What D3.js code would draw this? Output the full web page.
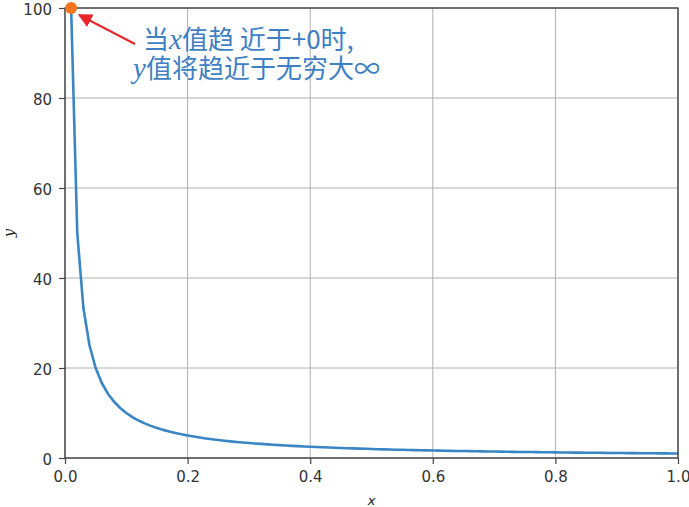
<!DOCTYPE html>
<html><head><meta charset="utf-8">
<script src="https://cdn.jsdelivr.net/npm/d3@7/dist/d3.min.js"></script>
<style>body{margin:0;background:#fff;}svg{display:block;}</style>
</head><body>
<svg id="c" width="689" height="507"></svg>
<script>
const xValues = [0.01,0.02,0.03,0.04,0.05,0.06,0.07,0.08,0.09,0.10,
0.11,0.12,0.13,0.14,0.15,0.16,0.17,0.18,0.19,0.20,
0.21,0.22,0.23,0.24,0.25,0.26,0.27,0.28,0.29,0.30,
0.31,0.32,0.33,0.34,0.35,0.36,0.37,0.38,0.39,0.40,
0.41,0.42,0.43,0.44,0.45,0.46,0.47,0.48,0.49,0.50,
0.51,0.52,0.53,0.54,0.55,0.56,0.57,0.58,0.59,0.60,
0.61,0.62,0.63,0.64,0.65,0.66,0.67,0.68,0.69,0.70,
0.71,0.72,0.73,0.74,0.75,0.76,0.77,0.78,0.79,0.80,
0.81,0.82,0.83,0.84,0.85,0.86,0.87,0.88,0.89,0.90,
0.91,0.92,0.93,0.94,0.95,0.96,0.97,0.98,0.99,1.00];
const yValues = [100,50,33.33,25,20,16.67,14.29,12.5,11.11,10,
9.09,8.33,7.69,7.14,6.67,6.25,5.88,5.56,5.26,5,
4.76,4.55,4.35,4.17,4,3.85,3.70,3.57,3.45,3.33,
3.23,3.13,3.03,2.94,2.86,2.78,2.70,2.63,2.56,2.5,
2.44,2.38,2.33,2.27,2.22,2.17,2.13,2.08,2.04,2,
1.96,1.92,1.89,1.85,1.82,1.79,1.75,1.72,1.69,1.67,
1.64,1.61,1.59,1.56,1.54,1.52,1.49,1.47,1.45,1.43,
1.41,1.39,1.37,1.35,1.33,1.32,1.30,1.28,1.27,1.25,
1.23,1.22,1.20,1.19,1.18,1.16,1.15,1.14,1.12,1.11,
1.10,1.09,1.08,1.06,1.05,1.04,1.03,1.02,1.01,1.00];
const xTicks = [0, 0.2, 0.4, 0.6, 0.8, 1.0];
const yTicks = [0, 20, 40, 60, 80, 100];
const highlightPoint = [0.01, 100];
const annotationLines = [
  [["当",false],["x",true],["值趋",false],[" ",false],["近于+0时,",false]],
  [["y",true],["值将趋近于无穷大∞",false]]
];

const svg = d3.select("#c");
const L = 65, R = 678, T = 8, B = 458;
const x = d3.scaleLinear().domain([0, 1]).range([L, R]);
const y = d3.scaleLinear().domain([0, 100]).range([B, T]);

// grid
const g = svg.append("g");
g.selectAll("line.gx").data(xTicks).join("line")
  .attr("x1", d => x(d)).attr("x2", d => x(d)).attr("y1", T).attr("y2", B)
  .attr("stroke", "#b0b0b0").attr("stroke-width", 1);
g.selectAll("line.gy").data(yTicks).join("line")
  .attr("y1", d => y(d)).attr("y2", d => y(d)).attr("x1", L).attr("x2", R)
  .attr("stroke", "#b0b0b0").attr("stroke-width", 1);

// line
const line = d3.line().x((d, i) => x(xValues[i])).y(d => y(d));
svg.append("path").datum(yValues).attr("d", line)
  .attr("fill", "none").attr("stroke", "#3a85c4").attr("stroke-width", 2.6)
  .attr("stroke-linejoin", "round");

// frame
svg.append("rect").attr("x", L).attr("y", T).attr("width", R - L).attr("height", B - T)
  .attr("fill", "none").attr("stroke", "#444").attr("stroke-width", 1.4);

// axes
const xAxis = d3.axisBottom(x).tickValues(xTicks).tickFormat(d3.format(".1f")).tickSize(6).tickPadding(7);
const yAxis = d3.axisLeft(y).tickValues(yTicks).tickFormat(d3.format("d")).tickSize(6).tickPadding(7);
const ax = svg.append("g").attr("transform", `translate(0,${B})`).call(xAxis);
const ay = svg.append("g").attr("transform", `translate(${L},0)`).call(yAxis);
[ax, ay].forEach(a => {
  a.select(".domain").remove();
  a.selectAll(".tick line").attr("stroke", "#444").attr("stroke-width", 1.2);
  a.selectAll(".tick text").attr("fill", "#333").style("font-family", "DejaVu Sans")
    .style("font-size", "15px");
});
ay.selectAll(".tick text").attr("dy", "0.45em");

// axis labels
svg.append("text").attr("x", x(0.5)).attr("y", 505).attr("text-anchor", "middle")
  .style("font-family", "DejaVu Sans").style("font-style", "italic").style("font-size", "13px")
  .attr("fill", "#222").text("x");
svg.append("text").attr("transform", `translate(14,${y(50)}) rotate(-90)`).attr("text-anchor", "middle")
  .style("font-family", "DejaVu Serif").style("font-style", "italic").style("font-size", "15px")
  .attr("fill", "#222").text("y");

// arrow
const defs = svg.append("defs");
defs.append("marker").attr("id", "ah").attr("viewBox", "0 0 10 10").attr("refX", 9).attr("refY", 5)
  .attr("markerWidth", 7).attr("markerHeight", 7).attr("orient", "auto-start-reverse")
  .append("path").attr("d", "M0,0 L10,5 L0,10 z").attr("fill", "#e8262b");
svg.append("line").attr("x1", 135).attr("y1", 44).attr("x2", x(highlightPoint[0]) + 8).attr("y2", y(highlightPoint[1]) + 7)
  .attr("stroke", "#e8262b").attr("stroke-width", 2).attr("marker-end", "url(#ah)");

// point
svg.append("circle").attr("cx", x(highlightPoint[0])).attr("cy", y(highlightPoint[1])).attr("r", 6)
  .attr("fill", "#f5761a");

// annotation text
const starts = [[143, 49], [133, 78]];
annotationLines.forEach((parts, i) => {
  const t = svg.append("text").attr("x", starts[i][0]).attr("y", starts[i][1])
    .attr("fill", "#3f7fc4").style("font-size", "26px").attr("xml:space", "preserve");
  parts.forEach(([s, it]) => {
    t.append("tspan").text(s)
      .style("font-family", it ? "Liberation Serif, DejaVu Serif" : "Noto Sans CJK SC")
      .style("font-style", it ? "italic" : "normal")
      .style("font-size", it ? "29px" : "26px");
  });
});
</script>
</body></html>
